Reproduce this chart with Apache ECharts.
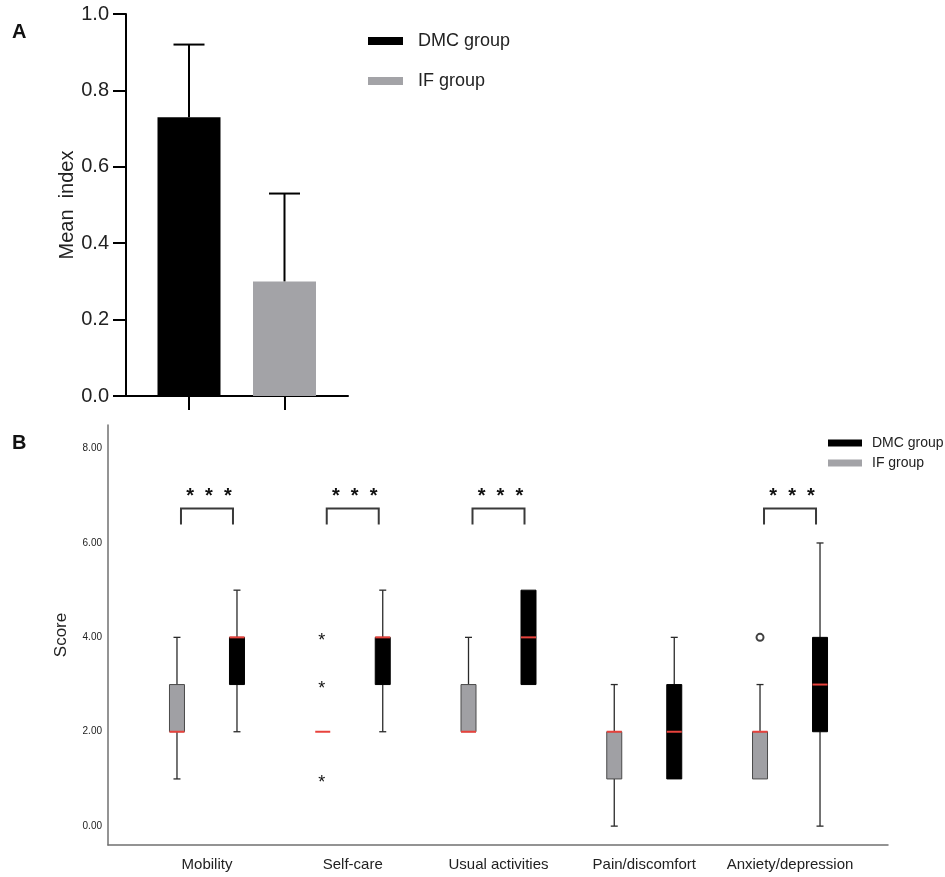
<!DOCTYPE html>
<html>
<head>
<meta charset="utf-8">
<title>EQ-5D index and dimension scores</title>
<script src="https://cdn.jsdelivr.net/npm/echarts@6/dist/echarts.min.js"></script>
<style>
  html, body { margin: 0; padding: 0; background: #fff; }
  #chart { width: 945px; height: 877px; }
</style>
</head>
<body>
<div id="chart"></div>
<script>
// panel A: mean index (+SD) per group
const groups = ['DMC group', 'IF group'];
const meanIndex = [0.73, 0.30];
const meanSd = [0.19, 0.23];

// panel B: box plots per dimension, each row is [min, q1, median, q3, max]
const dimensions = ['Mobility', 'Self-care', 'Usual activities', 'Pain/discomfort', 'Anxiety/depression'];
const ifBoxes = [
    [1, 2, 2, 3, 4],
    [2, 2, 2, 2, 2],
    [2, 2, 2, 3, 4],
    [0, 1, 2, 2, 3],
    [1, 1, 2, 2, 3]
];
const dmcBoxes = [
    [2, 3, 4, 4, 5],
    [2, 3, 4, 4, 5],
    [3, 3, 4, 5, 5],
    [1, 1, 2, 3, 4],
    [0, 2, 3, 4, 6]
];
// IF group points outside the whiskers: [dimension index, score]
const ifExtremes = [[1, 4], [1, 3], [1, 1]];   // drawn as '*'
const ifOutliers = [[4, 4]];                   // drawn as 'o'
// dimensions with *** between the groups
const significant = [0, 1, 2, 4];

const DMC_COLOR = '#000000';
const IF_COLOR = '#a3a3a7';
const MEDIAN_COLOR = '#e8423c';
const FONT = '"Liberation Sans", Arial, Helvetica, sans-serif';

const chart = echarts.init(document.getElementById('chart'));

function boxRenderer(offset, fill, stroke) {
    return function (params, api) {
        const cat = api.value(0);
        const x = api.coord([cat, 0])[0] + offset;
        const [yMin, yQ1, yMed, yQ3, yMax] = [1, 2, 3, 4, 5].map(d => api.coord([cat, api.value(d)])[1]);
        const half = 7.5, cap = 3.5;
        const ws = { stroke: '#2a2a2a', lineWidth: 1.3 };
        const kids = [];
        if (yMax < yQ3 - 0.5) {
            kids.push({ type: 'line', shape: { x1: x, y1: yMax, x2: x, y2: yQ3 }, style: ws });
            kids.push({ type: 'line', shape: { x1: x - cap, y1: yMax, x2: x + cap, y2: yMax }, style: ws });
        }
        if (yMin > yQ1 + 0.5) {
            kids.push({ type: 'line', shape: { x1: x, y1: yQ1, x2: x, y2: yMin }, style: ws });
            kids.push({ type: 'line', shape: { x1: x - cap, y1: yMin, x2: x + cap, y2: yMin }, style: ws });
        }
        if (yQ1 - yQ3 > 0.5) {
            kids.push({
                type: 'rect',
                shape: { x: x - half, y: yQ3, width: half * 2, height: yQ1 - yQ3 },
                style: { fill: fill, stroke: stroke, lineWidth: 1 }
            });
        }
        kids.push({
            type: 'line',
            shape: { x1: x - half, y1: yMed, x2: x + half, y2: yMed },
            style: { stroke: MEDIAN_COLOR, lineWidth: 2 }
        });
        return { type: 'group', children: kids };
    };
}

const option = {
    animation: false,
    backgroundColor: '#fff',
    textStyle: { fontFamily: FONT },
    title: [
        { text: 'A', left: 7, top: 17, textStyle: { fontSize: 20, fontWeight: 'bold', color: '#111', fontFamily: FONT } },
        { text: 'B', left: 7, top: 428, textStyle: { fontSize: 20, fontWeight: 'bold', color: '#111', fontFamily: FONT } }
    ],
    legend: [
        {
            data: groups,
            orient: 'vertical',
            left: 363, top: 27,
            icon: 'rect',
            itemWidth: 35, itemHeight: 8, itemGap: 22,
            selectedMode: false,
            textStyle: { fontSize: 18, color: '#222', padding: [0, 0, 0, 10], fontFamily: FONT }
        },
        {
            data: groups,
            orient: 'vertical',
            left: 823, top: 431,
            icon: 'rect',
            itemWidth: 34, itemHeight: 7, itemGap: 6,
            selectedMode: false,
            textStyle: { fontSize: 14, color: '#222', padding: [0, 0, 0, 5], fontFamily: FONT }
        }
    ],
    grid: [
        { left: 126, top: 14, width: 222, height: 382 },        // A axes
        { left: 141.25, top: 14, width: 191, height: 382 },     // A bars
        { left: 108, top: 425, width: 780, height: 420 },       // B axes
        { left: 134.1, top: 425, width: 728.8, height: 420 }    // B boxes
    ],
    xAxis: [
        {
            gridIndex: 0, type: 'value', min: 0, max: 1,
            axisLine: { onZero: false, lineStyle: { color: '#000', width: 2 } },
            axisTick: { show: false }, axisLabel: { show: false }, splitLine: { show: false }
        },
        {
            gridIndex: 1, type: 'category', data: groups,
            axisLine: { show: false },
            axisTick: { show: true, alignWithLabel: true, length: 14, lineStyle: { color: '#000', width: 2 } },
            axisLabel: { show: false }
        },
        {
            gridIndex: 2, type: 'value', min: 0, max: 1,
            axisLine: { onZero: false, lineStyle: { color: '#707070', width: 1.5 } },
            axisTick: { show: false }, axisLabel: { show: false }, splitLine: { show: false }
        },
        {
            gridIndex: 3, type: 'category', data: dimensions,
            axisLine: { show: false, onZero: false },
            axisTick: { show: false },
            axisLabel: { fontSize: 15, color: '#222', margin: 12, interval: 0 }
        }
    ],
    yAxis: [
        {
            gridIndex: 0, type: 'value', min: 0, max: 1, interval: 0.2,
            name: 'Mean  index', nameLocation: 'middle', nameGap: 35,
            nameTextStyle: { fontSize: 20, color: '#222' },
            axisLine: { show: true, lineStyle: { color: '#000', width: 2 } },
            axisTick: { show: true, length: 13, lineStyle: { color: '#000', width: 2 } },
            axisLabel: { fontSize: 20, color: '#222', margin: 17, formatter: v => v.toFixed(1) },
            splitLine: { show: false }
        },
        { gridIndex: 1, type: 'value', min: 0, max: 1, show: false },
        {
            gridIndex: 2, type: 'value', min: -0.4, max: 8.5, interval: 0.4,
            name: 'Score', nameLocation: 'middle', nameGap: 38,
            nameTextStyle: { fontSize: 17, color: '#222' },
            axisLine: { show: true, lineStyle: { color: '#707070', width: 1.5 } },
            axisTick: { show: false },
            axisLabel: {
                fontSize: 10, color: '#222', margin: 6,
                formatter: v => Math.abs(v - Math.round(v / 2) * 2) < 1e-6 ? Math.round(v).toFixed(2) : ''
            },
            splitLine: { show: false }
        },
        { gridIndex: 3, type: 'value', min: -0.4, max: 8.5, show: false }
    ],
    series: [
        // A
        {
            name: 'DMC group', type: 'bar', xAxisIndex: 1, yAxisIndex: 1,
            barWidth: 63, barGap: '-100%',
            itemStyle: { color: DMC_COLOR },
            data: [meanIndex[0], '-']
        },
        {
            name: 'IF group', type: 'bar', xAxisIndex: 1, yAxisIndex: 1,
            barWidth: 63, barGap: '-100%',
            itemStyle: { color: IF_COLOR },
            data: ['-', meanIndex[1]]
        },
        {
            type: 'custom', xAxisIndex: 1, yAxisIndex: 1, z: 5,
            data: meanIndex.map((m, i) => [i, m, m + meanSd[i]]),
            renderItem: function (params, api) {
                const base = api.coord([api.value(0), api.value(1)]);
                const top = api.coord([api.value(0), api.value(2)]);
                const st = { stroke: '#000', lineWidth: 2 };
                return {
                    type: 'group', children: [
                        { type: 'line', shape: { x1: base[0], y1: base[1], x2: top[0], y2: top[1] }, style: st },
                        { type: 'line', shape: { x1: top[0] - 15.5, y1: top[1], x2: top[0] + 15.5, y2: top[1] }, style: st }
                    ]
                };
            }
        },
        // B
        {
            name: 'IF group', type: 'custom', xAxisIndex: 3, yAxisIndex: 3,
            itemStyle: { color: IF_COLOR },
            data: ifBoxes.map((b, i) => [i].concat(b)),
            renderItem: boxRenderer(-30, '#a0a0a4', '#4a4a4a')
        },
        {
            name: 'DMC group', type: 'custom', xAxisIndex: 3, yAxisIndex: 3,
            itemStyle: { color: DMC_COLOR },
            data: dmcBoxes.map((b, i) => [i].concat(b)),
            renderItem: boxRenderer(30, '#000', '#000')
        },
        {
            type: 'custom', xAxisIndex: 3, yAxisIndex: 3,
            data: ifExtremes,
            renderItem: function (params, api) {
                const p = api.coord([api.value(0), api.value(1)]);
                return {
                    type: 'text', x: p[0] - 31, y: p[1] + 4,
                    style: { text: '*', fontSize: 18, fill: '#111', align: 'center', verticalAlign: 'middle', fontFamily: FONT }
                };
            }
        },
        {
            type: 'scatter', xAxisIndex: 3, yAxisIndex: 3,
            symbol: 'emptyCircle', symbolSize: 7, symbolOffset: [-30, 0],
            itemStyle: { color: '#111', borderWidth: 1.2 },
            data: ifOutliers
        },
        {
            type: 'custom', xAxisIndex: 3, yAxisIndex: 3,
            data: significant.map(i => [i]),
            renderItem: function (params, api) {
                const cat = api.value(0);
                const xc = api.coord([cat, 0])[0];
                const yTop = api.coord([cat, 6.73])[1];
                const yLeg = api.coord([cat, 6.39])[1];
                const yStar = api.coord([cat, 7.05])[1];
                return {
                    type: 'group', children: [
                        {
                            type: 'polyline',
                            shape: { points: [[xc - 26, yLeg], [xc - 26, yTop], [xc + 26, yTop], [xc + 26, yLeg]] },
                            style: { stroke: '#3a3a3a', lineWidth: 2, fill: null }
                        },
                        {
                            type: 'text', x: xc + 2, y: yStar + 3,
                            style: { text: '*  *  *', fontSize: 20, fontWeight: 'bold', fill: '#111', align: 'center', verticalAlign: 'middle', fontFamily: FONT }
                        }
                    ]
                };
            }
        }
    ]
};

chart.setOption(option);
</script>
</body>
</html>
